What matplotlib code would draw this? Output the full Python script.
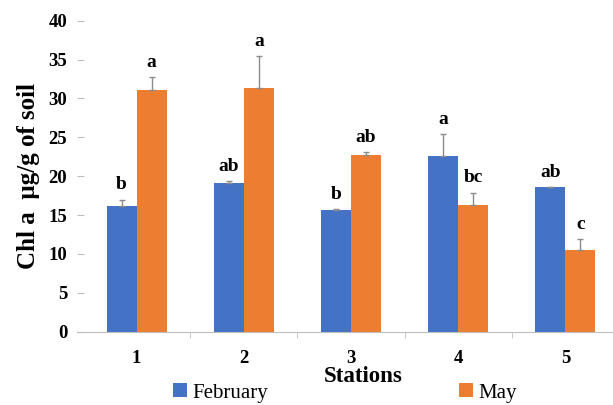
import numpy as np
import matplotlib.pyplot as plt

plt.rcParams['font.family'] = ['Liberation Serif', 'DejaVu Serif']

stations = ['1', '2', '3', '4', '5']
feb = [16.2, 19.1, 15.7, 22.6, 18.6]
feb_err = [0.8, 0.3, 0.1, 2.8, 0.0]
may = [31.1, 31.4, 22.7, 16.3, 10.5]
may_err = [1.6, 4.0, 0.4, 1.6, 1.4]
feb_letters = ['b', 'ab', 'b', 'a', 'ab']
may_letters = ['a', 'a', 'ab', 'bc', 'c']

blue = '#4472C4'
orange = '#ED7D31'
err_col = '#8c8c8c'

fig = plt.figure(figsize=(6.13, 4.05), dpi=100)
ax = fig.add_axes([77 / 613, 73.3 / 405, 542 / 613, 311 / 405])

x = np.arange(1, len(stations) + 1)
w = 0.28
off = 0.14

ax.bar(x - off, feb, w, color=blue, label='February', zorder=2)
ax.bar(x + off, may, w, color=orange, label='May', zorder=2)

# upper error bars only
ax.errorbar(x - off, feb, yerr=[np.zeros(5), feb_err], fmt='none',
            ecolor=err_col, elinewidth=1, capsize=2, capthick=1, zorder=3)
ax.errorbar(x + off, may, yerr=[np.zeros(5), may_err], fmt='none',
            ecolor=err_col, elinewidth=1, capsize=2, capthick=1, zorder=3)

for xi, v, e, t in zip(x - off, feb, feb_err, feb_letters):
    ax.text(xi, v + e + 0.8, t, ha='center', va='bottom',
            fontsize=14, fontweight='bold')
for xi, v, e, t in zip(x + off, may, may_err, may_letters):
    ax.text(xi, v + e + 0.8, t, ha='center', va='bottom',
            fontsize=14, fontweight='bold')

ax.set_xlim(0.5 - 6 / 107, 5.5)
ax.set_ylim(0, 40)
ax.set_yticks(np.arange(0, 41, 5))
ax.set_xticks(x)
ax.set_xticklabels(stations)
ax.set_xticks(x[:-1] + 0.5, minor=True)

for s in ['top', 'right', 'left']:
    ax.spines[s].set_visible(False)
ax.spines['bottom'].set_color('#bfbfbf')

ax.tick_params(axis='y', direction='in', length=5, color='#bfbfbf',
               pad=7, labelsize=13.5)
ax.tick_params(axis='x', which='major', length=0, pad=13, labelsize=13.5)
ax.tick_params(axis='x', which='minor', direction='out', length=4,
               color='#bfbfbf')
for lab in ax.get_xticklabels() + ax.get_yticklabels():
    lab.set_fontweight('bold')

ax.set_ylabel('Chl a  µg/g of soil', fontsize=18, fontweight='bold',
              labelpad=6)
fig.text(363 / 613, 28 / 405, 'Stations', ha='center', va='center',
         fontsize=16.5, fontweight='bold')

fig.legend(loc='center', bbox_to_anchor=(345 / 613, 12 / 405), ncol=2,
           frameon=False, fontsize=15, handlelength=0.65, handleheight=0.65,
           handletextpad=0.25, columnspacing=9.2, borderpad=0)

fig.savefig('out.png', dpi=100)
